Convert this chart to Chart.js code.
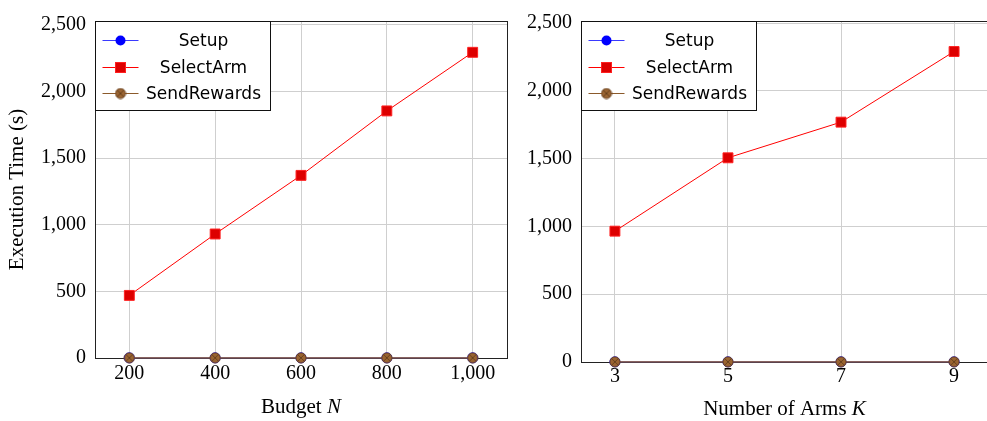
<!DOCTYPE html>
<html>
<head>
<meta charset="utf-8">
<script src="https://cdn.jsdelivr.net/npm/chart.js@4"></script>
<style>
  html, body { margin: 0; padding: 0; background: #fff; overflow: hidden; width: 987px; height: 421px; }
  .panel { position: absolute; top: 0; height: 421px; }
  #leftPanel { left: 0; width: 515px; }
  #rightPanel { left: 520px; width: 476px; }
</style>
</head>
<body>
<div class="panel" id="leftPanel"><canvas id="budgetChart" width="515" height="421"></canvas></div>
<div class="panel" id="rightPanel"><canvas id="armsChart" width="476" height="421"></canvas></div>
<script>
// values (seconds)
const budgetValues = [200, 400, 600, 800, 1000];
const budgetSetup = [1, 1, 1, 1, 1];
const budgetSelectArm = [470, 931, 1371, 1855, 2295];
const budgetSendRewards = [1, 1, 1, 1, 1];

const armValues = [3, 5, 7, 9];
const armSetup = [1, 1, 1, 1];
const armSelectArm = [965, 1506, 1769, 2290];
const armSendRewards = [1, 1, 1, 1];

const yTickValues = [0, 500, 1000, 1500, 2000, 2500];
const seriesNames = ['Setup', 'SelectArm', 'SendRewards'];

const serifFont = "'Liberation Serif', 'Times New Roman', serif";
const sansFont = "'DejaVu Sans', sans-serif";
const gridColor = '#cfcfcf';

function makeOtimes() {
    const c = document.createElement('canvas');
    c.width = 12; c.height = 12;
    const g = c.getContext('2d');
    g.beginPath();
    g.arc(6, 6, 5, 0, Math.PI * 2);
    g.fillStyle = '#9a6432';
    g.fill();
    g.strokeStyle = '#6e4522';
    g.lineWidth = 1;
    g.stroke();
    g.beginPath();
    const d = 5 * Math.SQRT1_2;
    g.moveTo(6 - d, 6 - d); g.lineTo(6 + d, 6 + d);
    g.moveTo(6 + d, 6 - d); g.lineTo(6 - d, 6 + d);
    g.strokeStyle = '#5a3818';
    g.lineWidth = 0.8;
    g.stroke();
    return c;
}
const otimes = makeOtimes();

function pairs(xs, ys) {
    return xs.map((x, i) => ({ x: x, y: ys[i] }));
}

// order: higher is drawn first, so SendRewards ends up on top like in pgfplots
function buildDatasets(xs, setup, select, send) {
    return [
        {
            label: seriesNames[0], data: pairs(xs, setup), order: 3,
            borderColor: '#3a3aff', backgroundColor: '#0000ff', borderWidth: 1,
            pointStyle: 'circle', pointRadius: 5, pointBorderWidth: 1, pointBorderColor: '#0000ff', clip: false
        },
        {
            label: seriesNames[1], data: pairs(xs, select), order: 2,
            borderColor: '#ff0000', backgroundColor: '#dd0000', borderWidth: 1,
            pointStyle: 'rect', pointRadius: 7, pointBorderColor: '#ff2020', pointBorderWidth: 1, clip: false
        },
        {
            label: seriesNames[2], data: pairs(xs, send), order: 1,
            borderColor: '#8b5a2b', backgroundColor: '#9a6432', borderWidth: 1.2,
            pointStyle: otimes, pointRadius: 6, clip: false
        }
    ];
}

// pgfplots-like frame, inside legend and mixed-font x label
const framePlugin = {
    id: 'frame',
    beforeDatasetsDraw(chart) {
        const a = chart.chartArea, ctx = chart.ctx;
        ctx.save();
        ctx.strokeStyle = '#222';
        ctx.lineWidth = 1;
        ctx.strokeRect(Math.round(a.left) + 0.5, Math.round(a.top) + 0.5,
            Math.round(a.right - a.left), Math.round(a.bottom - a.top));
        ctx.restore();
    },
    afterDraw(chart, args, opts) {
        const a = chart.chartArea, ctx = chart.ctx;
        ctx.save();
        // legend box
        const x0 = Math.round(a.left) + 0.5, y0 = Math.round(a.top) + 0.5;
        const w = 175, h = 89;
        ctx.fillStyle = '#fff';
        ctx.fillRect(x0, y0, w, h);
        ctx.strokeStyle = '#111';
        ctx.lineWidth = 1;
        ctx.strokeRect(x0, y0, w, h);
        const rows = [19, 46, 72];
        chart.data.datasets.forEach((ds, i) => {
            const cy = y0 + rows[i];
            ctx.beginPath();
            ctx.moveTo(x0 + 7, cy);
            ctx.lineTo(x0 + 43, cy);
            ctx.strokeStyle = ds.borderColor;
            ctx.lineWidth = 1;
            ctx.stroke();
            const mx = x0 + 25;
            if (ds.pointStyle === 'circle') {
                ctx.beginPath();
                ctx.arc(mx, cy, 5, 0, Math.PI * 2);
                ctx.fillStyle = ds.backgroundColor;
                ctx.fill();
            } else if (ds.pointStyle === 'rect') {
                ctx.fillStyle = ds.backgroundColor;
                ctx.fillRect(mx - 5, cy - 5, 10, 10);
                ctx.strokeStyle = ds.pointBorderColor;
                ctx.strokeRect(mx - 5, cy - 5, 10, 10);
            } else {
                ctx.drawImage(ds.pointStyle, mx - 6, cy - 6);
            }
            ctx.fillStyle = '#000';
            ctx.font = '17px ' + sansFont;
            ctx.textAlign = 'center';
            ctx.textBaseline = 'middle';
            ctx.fillText(ds.label, x0 + 108, cy + 1);
        });
        // x axis label: upright text + italic variable
        const parts = opts.xLabel;
        ctx.textBaseline = 'middle';
        ctx.textAlign = 'left';
        ctx.fillStyle = '#000';
        ctx.font = '21px ' + serifFont;
        const w1 = ctx.measureText(parts[0]).width;
        ctx.font = 'italic 21px ' + serifFont;
        const w2 = ctx.measureText(parts[1]).width;
        const cx = (a.left + a.right) / 2;
        const ty = a.bottom + opts.xLabelOffset;
        ctx.font = '21px ' + serifFont;
        ctx.fillText(parts[0], cx - (w1 + w2) / 2, ty);
        ctx.font = 'italic 21px ' + serifFont;
        ctx.fillText(parts[1], cx - (w1 + w2) / 2 + w1, ty);
        ctx.restore();
    }
};

function fmt(v) {
    return Number(v).toLocaleString('en-US');
}

function buildOptions(cfg) {
    return {
        responsive: false,
        animation: false,
        layout: { padding: { top: cfg.padTop, right: cfg.padRight, left: 0, bottom: 0 } },
        plugins: {
            legend: { display: false },
            tooltip: { enabled: false },
            frame: { xLabel: cfg.xLabel, xLabelOffset: cfg.xLabelOffset }
        },
        scales: {
            x: {
                type: 'linear',
                min: cfg.xMin, max: cfg.xMax,
                afterBuildTicks: s => { s.ticks = cfg.xTicks.map(v => ({ value: v })); },
                afterFit: s => { s.height = cfg.xAxisHeight; },
                grid: { color: gridColor, drawTicks: false },
                border: { display: false },
                ticks: {
                    color: '#000', padding: cfg.xTickPad, maxRotation: 0,
                    font: { family: serifFont, size: 20 },
                    callback: fmt
                }
            },
            y: {
                type: 'linear',
                min: 0, max: cfg.yMax,
                afterBuildTicks: s => { s.ticks = yTickValues.map(v => ({ value: v })); },
                afterFit: s => { s.width = cfg.yAxisWidth; },
                grid: { color: gridColor, drawTicks: false },
                border: { display: false },
                ticks: {
                    color: '#000', padding: 9,
                    font: { family: serifFont, size: 20 },
                    callback: fmt
                },
                title: {
                    display: !!cfg.yTitle,
                    text: cfg.yTitle,
                    color: '#000',
                    padding: { top: 5, bottom: 0 },
                    font: { family: serifFont, size: 21 }
                }
            }
        }
    };
}

function createChart(canvasId, config) {
    const ctx = document.getElementById(canvasId);
    if (!ctx) return null;
    return new Chart(ctx, config);
}

createChart('budgetChart', {
    type: 'line',
    data: { datasets: buildDatasets(budgetValues, budgetSetup, budgetSelectArm, budgetSendRewards) },
    options: buildOptions({
        padTop: 13, padRight: 6, xMin: 120, xMax: 1080, xTicks: budgetValues, xTickPad: 4,
        xAxisHeight: 63, yAxisWidth: 95, yMax: 2530, yTitle: 'Execution Time (s)',
        xLabel: ['Budget ', 'N'], xLabelOffset: 49
    }),
    plugins: [framePlugin]
});

createChart('armsChart', {
    type: 'line',
    data: { datasets: buildDatasets(armValues, armSetup, armSelectArm, armSendRewards) },
    options: buildOptions({
        padTop: 18, padRight: 0, xMin: 2.4, xMax: 9.6, xTicks: armValues, xTickPad: 3,
        xAxisHeight: 59, yAxisWidth: 61, yMax: 2515, yTitle: '',
        xLabel: ['Number of Arms ', 'K'], xLabelOffset: 47
    }),
    plugins: [framePlugin]
});
</script>
</body>
</html>
